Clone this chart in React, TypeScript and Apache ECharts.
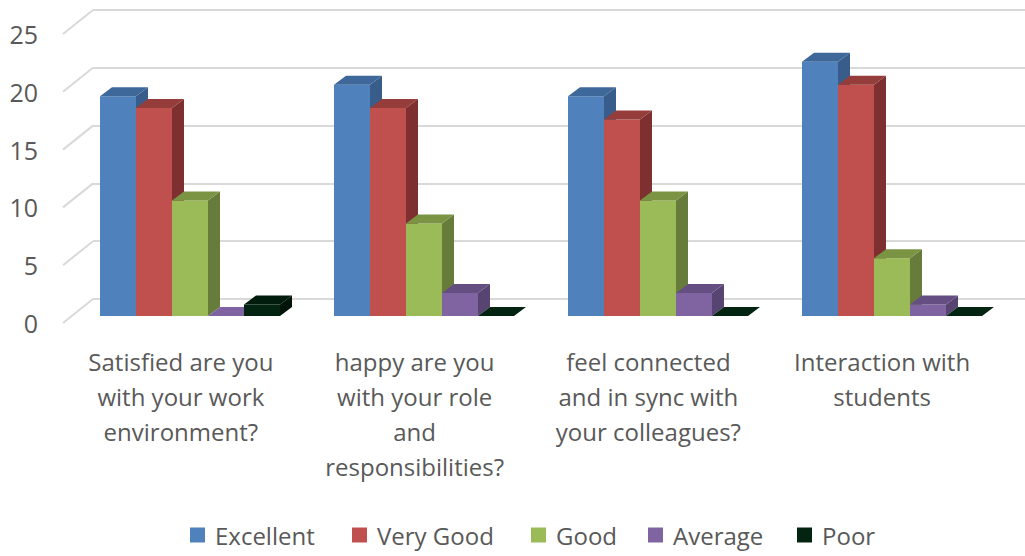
import React, { useEffect, useRef } from "react";
import * as echarts from "echarts";

const CATEGORIES = [
  "Satisfied are you\nwith your work\nenvironment?",
  "happy are you\nwith your role\nand\nresponsibilities?",
  "feel connected\nand in sync with\nyour colleagues?",
  "Interaction with\nstudents",
];
const SERIES_NAMES = ["Excellent", "Very Good", "Good", "Average", "Poor"];
const EXCELLENT = [19, 20, 19, 22];
const VERY_GOOD = [18, 18, 17, 20];
const GOOD = [10, 8, 10, 5];
const AVERAGE = [0, 2, 2, 1];
const POOR = [1, 0, 0, 0];
const Y_TICKS = [0, 5, 10, 15, 20, 25];

const SERIES_VALUES = [EXCELLENT, VERY_GOOD, GOOD, AVERAGE, POOR];
const FRONT = ["#4F81BD", "#C0504D", "#9BBB59", "#8064A2", "#022411"];
const TOP = ["#3D6899", "#953D3A", "#7A9444", "#644E82", "#011B0C"];
const SIDE = ["#385D8A", "#7D302F", "#677C3A", "#584470", "#00140A"];
const LEGEND_LEFT = [190, 352, 531, 648, 797];

const FONT = "'Open Sans', 'Noto Sans', sans-serif";
const TEXT_COLOR = "#595959";
const GRID_COLOR = "#D9D9D9";
const DX = 12;
const DY = -9;
const BAR_FRAC = 36 / 234;

export default function App() {
  const ref = useRef<HTMLDivElement>(null);
  useEffect(() => {
    if (!ref.current) return;
    const chart = echarts.init(ref.current, null, { renderer: "svg" });

    const barSeries = SERIES_VALUES.map((vals, sIdx) => ({
      type: "custom",
      name: SERIES_NAMES[sIdx],
      xAxisIndex: 2,
      yAxisIndex: 2,
      itemStyle: { color: FRONT[sIdx] },
      data: vals.map((v, i) => [i, v]),
      renderItem: (params: any, api: any) => {
        const cat = api.value(0);
        const val = api.value(1);
        const base = api.coord([cat, 0]);
        const top = api.coord([cat, val]);
        const band = api.size([1, 0])[0];
        const bw = band * BAR_FRAC;
        const x0 = base[0] - 2.5 * bw + sIdx * bw;
        const x1 = x0 + bw;
        const yb = base[1];
        const yt = top[1];
        const children: any[] = [];
        if (yb - yt > 0.1) {
          children.push({
            type: "rect",
            shape: { x: x0, y: yt, width: bw, height: yb - yt },
            style: { fill: FRONT[sIdx] },
          });
          children.push({
            type: "polygon",
            shape: {
              points: [
                [x1, yt],
                [x1 + DX, yt + DY],
                [x1 + DX, yb + DY],
                [x1, yb],
              ],
            },
            style: { fill: SIDE[sIdx] },
          });
        }
        children.push({
          type: "polygon",
          shape: {
            points: [
              [x0, yt],
              [x1, yt],
              [x1 + DX, yt + DY],
              [x0 + DX, yt + DY],
            ],
          },
          style: { fill: val === 0 ? FRONT[sIdx] : TOP[sIdx] },
        });
        return { type: "group", children };
      },
    }));

    const legends = SERIES_NAMES.map((name, i) => ({
      data: [name],
      left: LEGEND_LEFT[i],
      top: 523,
      icon: "rect",
      itemWidth: 15,
      itemHeight: 15,
      padding: 0,
      textStyle: {
        fontSize: 24,
        color: TEXT_COLOR,
        fontFamily: FONT,
        padding: [0, 0, 0, 5],
      },
    }));

    const option: any = {
      animation: false,
      textStyle: { fontFamily: FONT },
      grid: [
        { left: 93, right: 0, top: 10, bottom: 257 },
        { left: 64, right: 26, top: 34, bottom: 233 },
        { left: 73, right: 16, top: 27, bottom: 240 },
      ],
      xAxis: [
        { gridIndex: 0, type: "value", min: 0, max: 1, show: false },
        {
          gridIndex: 1,
          type: "category",
          data: CATEGORIES,
          axisLine: { show: false },
          axisTick: { show: false },
          splitLine: { show: false },
          axisLabel: {
            interval: 0,
            margin: 21,
            fontSize: 24,
            lineHeight: 35,
            color: TEXT_COLOR,
            fontFamily: FONT,
            align: "center",
          },
        },
        { gridIndex: 2, type: "category", data: CATEGORIES, show: false },
      ],
      yAxis: [
        {
          gridIndex: 0,
          type: "value",
          min: 0,
          max: 25,
          interval: 5,
          axisLine: { show: false },
          axisTick: { show: false },
          axisLabel: { show: false },
          splitLine: { show: true, lineStyle: { color: GRID_COLOR, width: 2 } },
        },
        {
          gridIndex: 1,
          type: "value",
          min: 0,
          max: 25,
          interval: 5,
          axisLine: { show: false },
          axisTick: { show: false },
          splitLine: { show: false },
          axisLabel: {
            margin: 26,
            fontSize: 25,
            color: TEXT_COLOR,
            fontFamily: FONT,
          },
        },
        { gridIndex: 2, type: "value", min: 0, max: 25, interval: 5, show: false },
      ],
      legend: legends,
      series: [
        {
          type: "custom",
          name: "walls",
          xAxisIndex: 0,
          yAxisIndex: 0,
          silent: true,
          data: Y_TICKS.map((t) => [0, t]),
          renderItem: (params: any, api: any) => {
            const p = api.coord([0, api.value(1)]);
            return {
              type: "line",
              shape: { x1: p[0], y1: p[1], x2: p[0] - 30, y2: p[1] + 24 },
              style: { stroke: GRID_COLOR, lineWidth: 2 },
            };
          },
        },
        ...barSeries,
      ],
    };
    chart.setOption(option);
    return () => chart.dispose();
  }, []);
  return (
    <div
      ref={ref}
      style={{ position: "fixed", left: 0, top: 0, width: 1025, height: 556, background: "#fff" }}
    />
  );
}
